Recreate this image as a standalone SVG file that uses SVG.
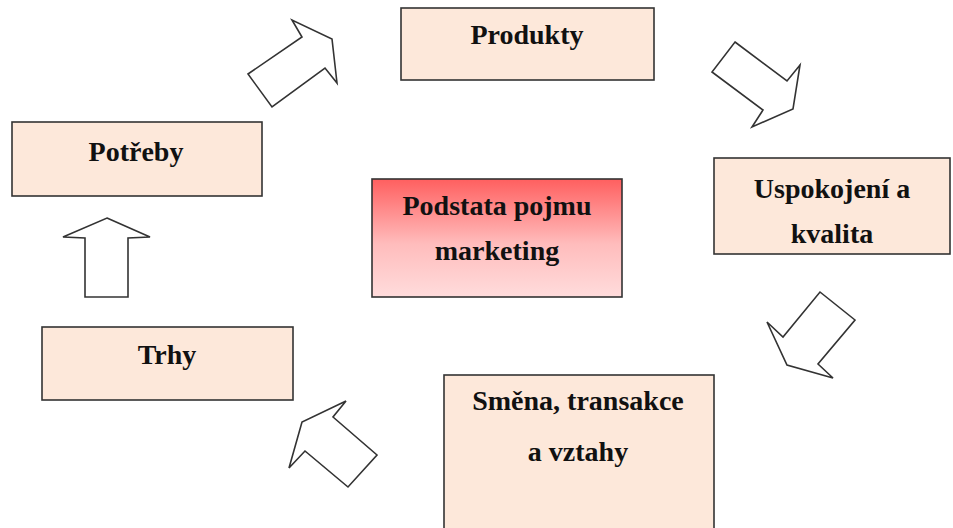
<svg xmlns="http://www.w3.org/2000/svg" width="953" height="528" viewBox="0 0 953 528">
<defs>
<linearGradient id="redgrad" x1="0" y1="0" x2="0" y2="1">
<stop offset="0" stop-color="#ff5f5f"/>
<stop offset="0.55" stop-color="#ffbcbc"/>
<stop offset="1" stop-color="#ffdcdc"/>
</linearGradient>
</defs>
<style>
.box{fill:#fde8da;stroke:#333;stroke-width:1.6}
.center{fill:url(#redgrad);stroke:#333;stroke-width:1.6}
.lbl{font-family:"Liberation Serif","Times New Roman",serif;font-weight:bold;font-size:28px;fill:#111;text-anchor:middle}
.arr{fill:#fff;stroke:#333;stroke-width:1.6;stroke-linejoin:miter}
</style>
<rect width="953" height="528" fill="#fff"/>
<g id="connectors">
<polygon class="arr" points="248,74 302,37 292,20 332,39 337,83 325,68 272,107"/>
<polygon class="arr" points="735,42 787,81 800,65 793,109 752,127 763,110 712,72"/>
<polygon class="arr" points="820,292 855,320 818,364 833,378 787,365 767,322 783,337"/>
<polygon class="arr" points="346,401 333,417 377,455 348,487 305,451 289,468 302,422"/>
<polygon class="arr" points="107,218 150,237 128,238 128,297 85,297 85,238 63,237"/>
</g>
<g id="produkty">
<rect class="box" x="401" y="8" width="253" height="72"/>
<text class="lbl" x="527" y="44">Produkty</text>
</g>
<g id="potreby">
<rect class="box" x="12" y="122" width="250" height="74"/>
<text class="lbl" x="136" y="161">Potřeby</text>
</g>
<g id="uspokojeni">
<rect class="box" x="714" y="158" width="236" height="96"/>
<text class="lbl" x="832" y="198">Uspokojení a</text>
<text class="lbl" x="832" y="243">kvalita</text>
</g>
<g id="podstata">
<rect class="center" x="372" y="179" width="250" height="118"/>
<text class="lbl" x="497" y="215">Podstata pojmu</text>
<text class="lbl" x="497" y="260">marketing</text>
</g>
<g id="trhy">
<rect class="box" x="42" y="327" width="251" height="73"/>
<text class="lbl" x="167" y="364">Trhy</text>
</g>
<g id="smena">
<rect class="box" x="444" y="375" width="270" height="160"/>
<text class="lbl" x="578" y="410">Směna, transakce</text>
<text class="lbl" x="578" y="461">a vztahy</text>
</g>
</svg>
